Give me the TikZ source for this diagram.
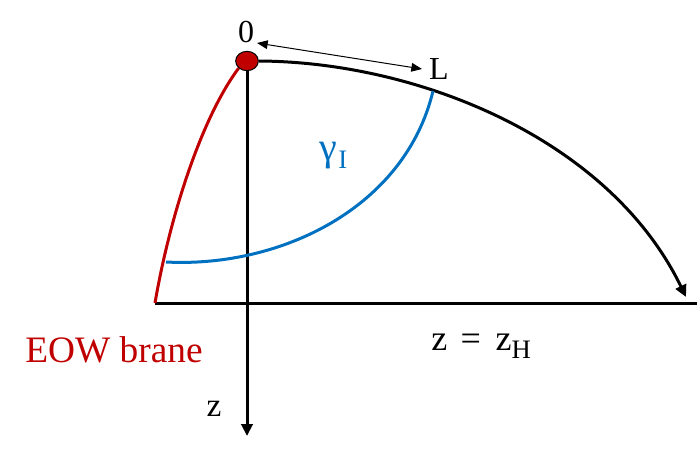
\documentclass[tikz,border=0pt]{standalone}
\usepackage{fontspec}
\setmainfont{Liberation Serif}
\usetikzlibrary{arrows.meta,shapes.geometric,backgrounds}
\definecolor{eowred}{HTML}{C00000}
\definecolor{gblue}{HTML}{0070C0}
\newcommand\fsz[1]{\fontsize{#1}{#1}\selectfont}
\begin{document}
\begin{tikzpicture}[x=0.75pt,y=-0.75pt,
  thickline/.style={line width=2.25pt},
  bigtip/.style={-{Triangle[length=9pt,width=8.5pt]}},
  lbl/.style={inner sep=0pt, anchor=base}]
\useasboundingbox (0,0) rectangle (698,449);
% named points
\coordinate (hl) at (155,303);
\coordinate (hr) at (697,303);
\coordinate (zend) at (247,436);
\coordinate (bL) at (166,262);
\coordinate (bR) at (433,91);
\coordinate (Lend) at (686,297);
\coordinate (a1) at (257,43);
\coordinate (a2) at (422,69);
% boundary point
\node[ellipse, draw, fill=eowred, line width=0.75pt, minimum width=17pt,
      minimum height=14.5pt, inner sep=0pt] (o) at (247,61) {};
\begin{scope}[on background layer]
  % horizon line
  \draw[thickline] (hl) -- (hr);
  % z axis
  \draw[thickline, bigtip] (o.south) -- (zend);
  % EOW brane
  \draw[thickline, eowred] (hl) .. controls (169,221) and (200,120) .. (o.south west);
  % geodesic to horizon
  \draw[thickline, bigtip] (o.east) .. controls (420,62) and (610,140) .. (Lend);
  % gamma_I
  \draw[thickline, gblue] (bL) .. controls (280,268) and (405,208) .. (bR);
  % interval arrow
  \draw[line width=0.75pt, {Triangle[length=8pt,width=6.5pt]}-{Triangle[length=8pt,width=6.5pt]}] (a1) -- (a2);
\end{scope}
% labels
\node[lbl] (zero) at (246,43) {\fsz{24pt}0};
\node[lbl] (Llab) at (439,80) {\fsz{24pt}L};
\node[lbl, anchor=base west, text=gblue] (gam) at (319,160)
  {\fsz{30pt}γ\kern1pt\raisebox{-6pt}{\fsz{20pt}I}};
\node[lbl, text=eowred] (eow) at (114,362) {\fsz{28pt}EOW brane};
\node[lbl, anchor=base west] (zh) at (431,350)
  {\fsz{27pt}z\hspace{10pt}=\hspace{11pt}z\raisebox{-6pt}{\fsz{20pt}H}};
\node[lbl] (zlab) at (214,416.5) {\fsz{25pt}z};
\end{tikzpicture}
\end{document}
